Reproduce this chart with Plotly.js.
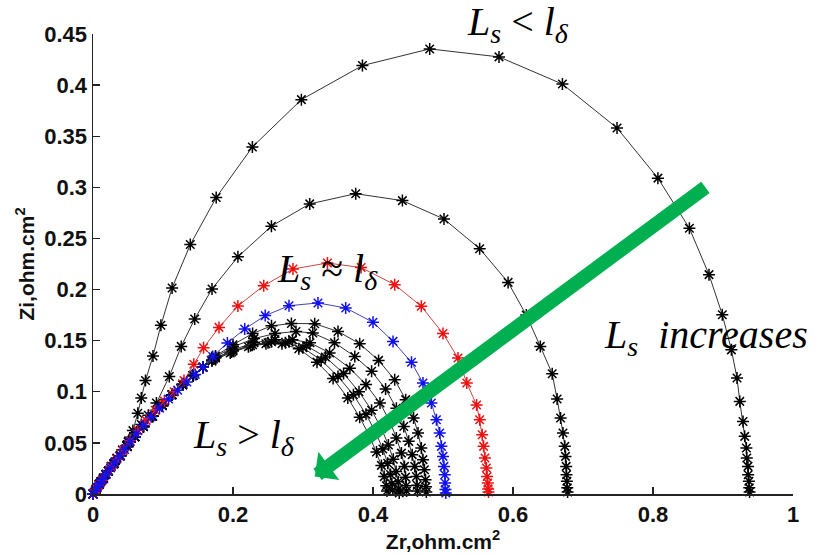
<!DOCTYPE html>
<html>
<head>
<meta charset="utf-8">
<script src="https://cdn.plot.ly/plotly-3.0.1.min.js"></script>
<style>html,body{margin:0;padding:0;background:#fff;}#chart{width:818px;height:556px;}</style>
</head>
<body>
<div id="chart"></div>
<script>
// ---- data (Zr, Zi in ohm.cm^2) ----
const zrA = [0, 0.005, 0.011, 0.018, 0.026, 0.034, 0.042, 0.05, 0.057, 0.064, 0.069, 0.075, 0.0857, 0.097, 0.113, 0.139, 0.176, 0.2277, 0.2977, 0.3849, 0.481, 0.580, 0.6706, 0.7486, 0.807, 0.852, 0.880, 0.899, 0.912, 0.920, 0.924, 0.9286, 0.931, 0.9334, 0.934, 0.9357, 0.936, 0.937, 0.9375, 0.938];
const ziA = [0, 0.0055, 0.012, 0.019, 0.027, 0.035, 0.043, 0.051, 0.062, 0.079, 0.094, 0.111, 0.135, 0.165, 0.2016, 0.244, 0.290, 0.3395, 0.3858, 0.4191, 0.4354, 0.4276, 0.401, 0.3581, 0.309, 0.260, 0.2146, 0.1754, 0.141, 0.1135, 0.0906, 0.071, 0.0564, 0.045, 0.0352, 0.027, 0.0189, 0.0124, 0.006, 0.002];

const zrB = [0, 0.005, 0.011, 0.018, 0.026, 0.034, 0.042, 0.051, 0.06, 0.069, 0.079, 0.0906, 0.109, 0.126, 0.1453, 0.17, 0.207, 0.2549, 0.3096, 0.3753, 0.442, 0.5014, 0.5524, 0.593, 0.619, 0.639, 0.656, 0.663, 0.668, 0.6714, 0.674, 0.675, 0.676, 0.6765, 0.677, 0.6775, 0.678];
const ziB = [0, 0.0055, 0.012, 0.019, 0.027, 0.035, 0.043, 0.052, 0.06, 0.068, 0.077, 0.089, 0.115, 0.1444, 0.1712, 0.2006, 0.232, 0.262, 0.2838, 0.2938, 0.287, 0.269, 0.24, 0.207, 0.175, 0.1444, 0.1177, 0.093, 0.0744, 0.0597, 0.0466, 0.0368, 0.027, 0.0189, 0.0124, 0.006, 0.002];

const zrRed = [0, 0.004, 0.008, 0.013, 0.019, 0.026, 0.034, 0.043, 0.053, 0.064, 0.076, 0.089, 0.102, 0.116, 0.13, 0.144, 0.158, 0.18, 0.207, 0.2439, 0.2857, 0.3349, 0.383, 0.431, 0.469, 0.5, 0.5214, 0.534, 0.548, 0.5524, 0.556, 0.558, 0.56, 0.562, 0.563, 0.564, 0.5645, 0.565];
const ziRed = [0, 0.0045, 0.0085, 0.0135, 0.0195, 0.0265, 0.034, 0.0425, 0.052, 0.062, 0.072, 0.082, 0.091, 0.1, 0.111, 0.127, 0.143, 0.163, 0.184, 0.2038, 0.2201, 0.226, 0.2215, 0.2048, 0.1836, 0.157, 0.133, 0.1086, 0.087, 0.0727, 0.058, 0.0466, 0.0352, 0.0254, 0.0172, 0.0108, 0.005, 0.002];

const zrBlue = [0, 0.003, 0.006, 0.01, 0.014, 0.019, 0.025, 0.031, 0.038, 0.045, 0.053, 0.062, 0.072, 0.083, 0.095, 0.108, 0.121, 0.134, 0.146, 0.157, 0.171, 0.192, 0.2167, 0.246, 0.28, 0.3214, 0.361, 0.4, 0.4286, 0.455, 0.4714, 0.4834, 0.4906, 0.4953, 0.4977, 0.5, 0.5014, 0.5025, 0.503, 0.5035, 0.504];
const ziBlue = [0, 0.0032, 0.0064, 0.0105, 0.0145, 0.0195, 0.0255, 0.031, 0.037, 0.0435, 0.051, 0.059, 0.067, 0.0755, 0.084, 0.093, 0.1015, 0.1095, 0.117, 0.124, 0.1346, 0.1477, 0.1614, 0.1745, 0.1842, 0.1869, 0.182, 0.168, 0.1493, 0.1288, 0.1086, 0.089, 0.0727, 0.0597, 0.0466, 0.0368, 0.027, 0.0189, 0.0108, 0.0043, 0.001];

// high-frequency branch shared by the inner (long Ls) curves
const zrHF = [0, 0.004, 0.009, 0.015, 0.022, 0.03, 0.039, 0.049, 0.06, 0.072, 0.085, 0.099, 0.113, 0.128, 0.143, 0.157];
const ziHF = [0, 0.0043, 0.0095, 0.0155, 0.0225, 0.0295, 0.0375, 0.0465, 0.056, 0.066, 0.076, 0.0865, 0.097, 0.107, 0.116, 0.124];

const zrC = [0.175, 0.2, 0.228, 0.255, 0.2834, 0.3167, 0.35, 0.381, 0.408, 0.431, 0.4467, 0.458, 0.4643, 0.469, 0.4714, 0.4735, 0.475, 0.4758, 0.4762];
const ziC = [0.135, 0.146, 0.157, 0.1645, 0.1668, 0.1666, 0.159, 0.147, 0.1307, 0.1118, 0.0923, 0.0744, 0.0597, 0.045, 0.0336, 0.0238, 0.014, 0.007, 0.002];
const zrD = [0.175, 0.2, 0.23, 0.26, 0.29, 0.314, 0.345, 0.374, 0.398, 0.418, 0.4334, 0.444, 0.451, 0.456, 0.4596, 0.462, 0.463, 0.4635];
const ziD = [0.134, 0.144, 0.152, 0.157, 0.159, 0.1575, 0.148, 0.1346, 0.12, 0.1027, 0.084, 0.066, 0.0515, 0.0385, 0.027, 0.0172, 0.0085, 0.003];
const zrE = [0.175, 0.2, 0.23, 0.26, 0.285, 0.31, 0.338, 0.367, 0.39, 0.41, 0.424, 0.4334, 0.4406, 0.445, 0.4465, 0.4475, 0.448];
const ziE = [0.133, 0.141, 0.148, 0.151, 0.151, 0.148, 0.138, 0.123, 0.107, 0.089, 0.071, 0.0548, 0.040, 0.027, 0.0165, 0.008, 0.003];
const zrF = [0.172, 0.2, 0.228, 0.255, 0.28, 0.305, 0.332, 0.358, 0.38, 0.398, 0.412, 0.422, 0.429, 0.433, 0.436, 0.437, 0.4375];
const ziF = [0.132, 0.14, 0.146, 0.149, 0.149, 0.145, 0.134, 0.118, 0.1, 0.082, 0.064, 0.048, 0.034, 0.022, 0.012, 0.005, 0.001];
const zrG = [0.17, 0.198, 0.225, 0.25, 0.275, 0.3, 0.326, 0.35, 0.372, 0.39, 0.404, 0.414, 0.421, 0.425, 0.427, 0.428];
const ziG = [0.131, 0.139, 0.145, 0.148, 0.148, 0.143, 0.131, 0.115, 0.097, 0.078, 0.06, 0.044, 0.03, 0.019, 0.01, 0.004];
const zrH = [0.17, 0.196, 0.222, 0.247, 0.27, 0.294, 0.32, 0.343, 0.364, 0.381, 0.395, 0.405, 0.412, 0.416, 0.419, 0.42];
const ziH = [0.13, 0.138, 0.144, 0.147, 0.147, 0.142, 0.129, 0.113, 0.094, 0.075, 0.057, 0.041, 0.028, 0.017, 0.008, 0.003];

const xTicks = [0, 0.2, 0.4, 0.6, 0.8, 1];
const yTicks = [0, 0.05, 0.1, 0.15, 0.2, 0.25, 0.3, 0.35, 0.4, 0.45];

// ---- styling ----
function curve(x, y, lineColor, markColor) {
  return {
    x: x, y: y, type: 'scatter', mode: 'lines+markers', cliponaxis: false,
    line: {color: lineColor, width: 1},
    marker: {symbol: 'asterisk-open', size: 10, color: markColor, line: {color: markColor, width: 1.5}},
    hoverinfo: 'skip'
  };
}
const blackLine = '#333333', blackMark = '#000000';
const traces = [
  curve(zrHF.concat(zrH), ziHF.concat(ziH), blackLine, blackMark),
  curve(zrHF.concat(zrG), ziHF.concat(ziG), blackLine, blackMark),
  curve(zrHF.concat(zrF), ziHF.concat(ziF), blackLine, blackMark),
  curve(zrHF.concat(zrE), ziHF.concat(ziE), blackLine, blackMark),
  curve(zrHF.concat(zrD), ziHF.concat(ziD), blackLine, blackMark),
  curve(zrHF.concat(zrC), ziHF.concat(ziC), blackLine, blackMark),
  curve(zrB, ziB, blackLine, blackMark),
  curve(zrA, ziA, blackLine, blackMark),
  curve(zrRed, ziRed, '#cc4444', '#ee1111'),
  curve(zrBlue, ziBlue, '#4444bb', '#1111ee')
];

const serif = 'Liberation Serif, Times New Roman, serif';
const sans = 'Liberation Sans, Arial, sans-serif';
const annFont = {family: serif, size: 40, color: '#000'};
const layout = {
  width: 818, height: 556,
  margin: {l: 93, r: 25, t: 34, b: 62},
  paper_bgcolor: '#fff', plot_bgcolor: '#fff',
  showlegend: false,
  xaxis: {
    range: [0, 1], tickvals: xTicks, ticks: 'inside', ticklen: 7, tickwidth: 1.3, tickcolor: '#222',
    showline: true, linecolor: '#222', linewidth: 1.5, showgrid: false, zeroline: false,
    tickfont: {family: sans, size: 22, color: '#111', weight: 'bold'},
    title: {text: 'Zr,ohm.cm<sup>2</sup>', font: {family: sans, size: 21, color: '#111', weight: 'bold'}, standoff: 4}
  },
  yaxis: {
    range: [0, 0.45], tickvals: yTicks, ticks: 'inside', ticklen: 7, tickwidth: 1.3, tickcolor: '#222',
    showline: true, linecolor: '#222', linewidth: 1.5, showgrid: false, zeroline: false,
    tickfont: {family: sans, size: 22, color: '#111', weight: 'bold'},
    title: {text: 'Zi,ohm.cm<sup>2</sup>', font: {family: sans, size: 21, color: '#111', weight: 'bold'}, standoff: 4}
  },
  annotations: [
    {x: 0.3167, y: 0.0172, ax: 0.877, ay: 0.301, xref: 'x', yref: 'y', axref: 'x', ayref: 'y',
     text: '', showarrow: true, arrowhead: 1, arrowsize: 0.42, arrowwidth: 14, arrowcolor: '#00b050', standoff: 0},
    {x: 0.531, y: 1.022, xref: 'x', yref: 'paper', xanchor: 'left', yanchor: 'middle', showarrow: false,
     text: '<i>L<sub>s</sub></i> &lt; <i>l<sub>δ</sub></i>', font: annFont},
    {x: 0.26, y: 0.218, xref: 'x', yref: 'y', xanchor: 'left', yanchor: 'middle', showarrow: false,
     text: '<i>L<sub>s</sub></i> ≈ <i>l<sub>δ</sub></i>', font: annFont},
    {x: 0.14, y: 0.056, xref: 'x', yref: 'y', xanchor: 'left', yanchor: 'middle', showarrow: false,
     text: '<i>L<sub>s</sub></i> &gt; <i>l<sub>δ</sub></i>', font: annFont},
    {x: 0.727, y: 0.154, xref: 'x', yref: 'y', xanchor: 'left', yanchor: 'middle', showarrow: false,
     text: '<i>L<sub>s</sub>&nbsp; increases</i>', font: annFont}
  ]
};

Plotly.newPlot('chart', traces, layout, {staticPlot: true, displayModeBar: false});
</script>
</body>
</html>
